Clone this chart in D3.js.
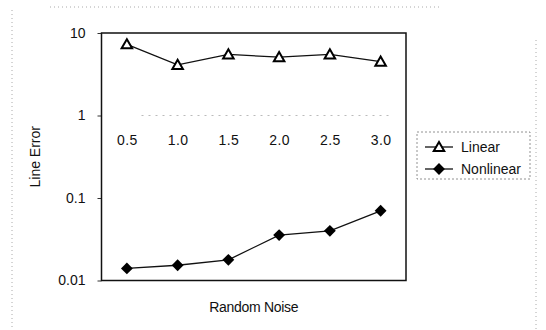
<!DOCTYPE html>
<html lang="en">
<head>
    <meta charset="UTF-8">
    <title>Line Error vs Random Noise</title>
    <script src="https://d3js.org/d3.v7.min.js"></script>
    <style>
        body { margin: 0; background: #fff; }
        svg { font-family: "Liberation Sans", Arial, sans-serif; }
        .axis text { font-size: 14px; fill: #111; }
        .axis .domain { display: none; }
        .axis .tick line { stroke: #333; }
        .frame { fill: none; stroke: #111; stroke-width: 1.5px; }
        .series { fill: none; stroke: #111; stroke-width: 1.3px; }
        .scan { stroke: #aaa; stroke-width: 1px; stroke-dasharray: 1 3; fill: none; }
        .legend-box { fill: #fff; stroke: #777; stroke-width: 0.8px; stroke-dasharray: 2 2; }
        .legend text { font-size: 14px; fill: #111; }
    </style>
</head>
<body>
    <div id="chart"></div>
    <script>
        const categories = ["0.5", "1.0", "1.5", "2.0", "2.5", "3.0"];
        const linear = [7.3, 4.1, 5.5, 5.1, 5.5, 4.5];
        const nonlinear = [0.014, 0.0153, 0.0178, 0.0355, 0.04, 0.07];
        const yTicks = [10, 1, 0.1, 0.01];
        const yTickLabels = ["10", "1", "0.1", "0.01"];

        const width = 546, height = 330;
        const margin = {top: 33, right: 140, bottom: 49.5, left: 101.5};
        const plotW = width - margin.left - margin.right;
        const plotH = height - margin.top - margin.bottom;

        const svg = d3.select("#chart").append("svg")
            .attr("width", width)
            .attr("height", height);

        // faint scanned page edges
        svg.append("line").attr("class", "scan")
            .attr("x1", 12).attr("x2", 12).attr("y1", 10).attr("y2", 330);
        svg.append("line").attr("class", "scan")
            .attr("x1", 536).attr("x2", 536).attr("y1", 40).attr("y2", 330);
        svg.append("line").attr("class", "scan")
            .attr("x1", 50).attr("x2", 440).attr("y1", 7).attr("y2", 7);

        const g = svg.append("g")
            .attr("transform", "translate(" + margin.left + "," + margin.top + ")");

        const x = d3.scalePoint()
            .domain(categories)
            .range([0, plotW])
            .padding(0.5);

        const y = d3.scaleLog()
            .domain([0.01, 10])
            .range([plotH, 0]);

        // y axis
        g.append("g")
            .attr("class", "axis")
            .call(d3.axisLeft(y)
                .tickValues(yTicks)
                .tickFormat((d, i) => yTickLabels[i])
                .tickSize(4)
                .tickPadding(12));

        // category axis crossing at 1 (faint in the scan)
        const xAxis = g.append("g")
            .attr("class", "axis")
            .attr("transform", "translate(0," + y(1) + ")")
            .call(d3.axisBottom(x).tickSize(0).tickPadding(20));
        xAxis.selectAll(".tick text")
            .style("letter-spacing", "0.5px");
        xAxis.append("line")
            .attr("x1", 40).attr("x2", plotW - 15)
            .attr("stroke", "#bbb")
            .attr("stroke-dasharray", "2 5");

        // plot frame
        g.append("rect")
            .attr("class", "frame")
            .attr("width", plotW)
            .attr("height", plotH);

        const line = d3.line()
            .x((d, i) => x(categories[i]))
            .y(d => y(d));

        g.append("path").datum(linear).attr("class", "series").attr("d", line);
        g.append("path").datum(nonlinear).attr("class", "series").attr("d", line);

        const tri = d3.symbol().type(d3.symbolTriangle).size(48);
        const dia = d3.symbol().type(d3.symbolSquare).size(70);

        g.selectAll(".tri")
            .data(linear)
            .join("path")
            .attr("class", "tri")
            .attr("d", tri)
            .attr("transform", (d, i) => "translate(" + x(categories[i]) + "," + (y(d) + 1) + ")")
            .attr("fill", "#fff")
            .attr("stroke", "#000")
            .attr("stroke-width", 2);

        g.selectAll(".dia")
            .data(nonlinear)
            .join("path")
            .attr("class", "dia")
            .attr("d", dia)
            .attr("transform", (d, i) => "translate(" + x(categories[i]) + "," + y(d) + ") rotate(45)")
            .attr("fill", "#000");

        // axis titles
        svg.append("text")
            .attr("transform", "translate(40," + (margin.top + plotH / 2) + ") rotate(-90)")
            .attr("text-anchor", "middle")
            .attr("font-size", 14)
            .attr("fill", "#111")
            .text("Line Error");

        svg.append("text")
            .attr("x", margin.left + plotW / 2)
            .attr("y", 312)
            .attr("text-anchor", "middle")
            .attr("font-size", 14)
            .attr("fill", "#111")
            .style("letter-spacing", "-0.3px")
            .text("Random Noise");

        // legend
        const legend = svg.append("g")
            .attr("class", "legend")
            .attr("transform", "translate(417,132)");
        legend.append("rect")
            .attr("class", "legend-box")
            .attr("width", 113)
            .attr("height", 47);

        const entries = [
            {name: "Linear", sym: "tri"},
            {name: "Nonlinear", sym: "dia"}
        ];
        const item = legend.selectAll(".item")
            .data(entries)
            .join("g")
            .attr("class", "item")
            .attr("transform", (d, i) => "translate(0," + (15 + i * 22) + ")");
        item.append("line")
            .attr("x1", 8).attr("x2", 36)
            .attr("stroke", "#111").attr("stroke-width", 1.3);
        item.append("path")
            .attr("d", d => d.sym === "tri" ? tri() : dia())
            .attr("transform", d => d.sym === "tri" ? "translate(22,1)" : "translate(22,0) rotate(45)")
            .attr("fill", d => d.sym === "tri" ? "#fff" : "#000")
            .attr("stroke", d => d.sym === "tri" ? "#000" : "none")
            .attr("stroke-width", 2);
        item.append("text")
            .attr("x", 44)
            .attr("dy", "0.35em")
            .text(d => d.name);
    </script>
</body>
</html>
